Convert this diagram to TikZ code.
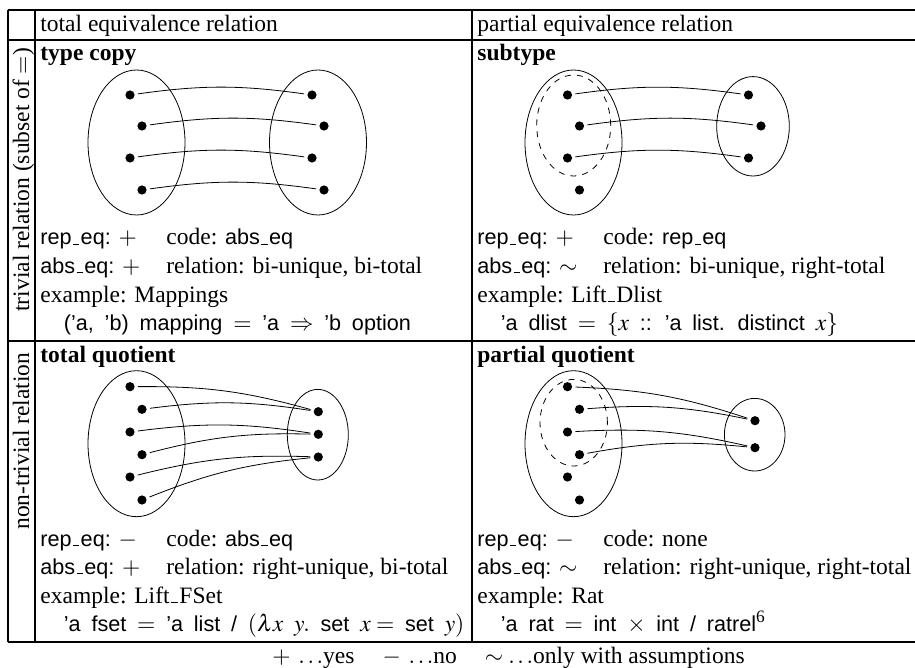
\documentclass[tikz,border=0pt]{standalone}
\usepackage{mathptmx}
\usepackage{fontspec}
\setmainfont{Liberation Serif}
\setsansfont{Liberation Sans}[Scale=0.92, WordSpace=1.8]
\newcommand{\us}{\kern.06em\vbox{\hrule width.3em}\kern.06em}

\begin{document}
\begin{tikzpicture}[x=0.5pt,y=0.5pt]
\tikzstyle{every node}+=[inner sep=0pt, font=\fontsize{11.75}{14}\selectfont]
\tikzstyle{txt}=[anchor=base west]
\tikzstyle{dot}=[circle, fill=black, minimum size=4.6pt, outer sep=1.7pt]
\tikzstyle{rule}=[line width=1.1pt]
\useasboundingbox (0,0) rectangle (915,-668);
% table rules
\draw [rule] (8,-10) -- (915,-10);
\draw [rule] (8,-40) -- (915,-40);
\draw [rule] (8,-341) -- (915,-341);
\draw [rule] (8,-642) -- (915,-642);
\draw [rule] (8,-10) -- (8,-642);
\draw [rule] (35,-10) -- (35,-642);
\draw [rule] (472,-10) -- (472,-642);
% header
\node (hdtot) [txt] at (40,-31.5) {total equivalence relation};
\node (hdpar) [txt] at (477,-31.5) {partial equivalence relation};
% side labels
\begin{scope}
\clip (8,-40) rectangle (35,-341);
\node (lbltriv) [txt, rotate=90] at (29,-312) {trivial relation (subset of $=$)};
\end{scope}
\begin{scope}
\clip (8,-341) rectangle (35,-642);
\node (lblnon) [txt, rotate=90] at (29,-530) {non-trivial relation};
\end{scope}
% type copy
\node (cpy) [txt] at (40,-61) {\textbf{type copy}};
\draw (136.5,-142.5) ellipse (48.5 and 72.5);
\draw (318,-142.5) ellipse (48.5 and 72.5);
\node (cpyL1) [dot] at (130,-95) {};
\node (cpyL2) [dot] at (142,-126) {};
\node (cpyL3) [dot] at (130,-158) {};
\node (cpyL4) [dot] at (142,-190) {};
\node (cpyR1) [dot] at (312,-95) {};
\node (cpyR2) [dot] at (324,-126) {};
\node (cpyR3) [dot] at (312,-158) {};
\node (cpyR4) [dot] at (324,-190) {};
\draw (cpyL1) to [bend left=8] (cpyR1);
\draw (cpyL2) to [bend left=8] (cpyR2);
\draw (cpyL3) to [bend left=8] (cpyR3);
\draw (cpyL4) to [bend left=8] (cpyR4);
\node (cpyrep) [txt] at (40,-245) {\textsf{rep\us eq:} $+$};
\node (cpycode) [txt] at (166,-245) {code: \textsf{abs\us eq}};
\node (cpyabs) [txt] at (40,-273) {\textsf{abs\us eq:} $+$};
\node (cpyrel) [txt] at (166,-273) {relation: bi-unique, bi-total};
\node (cpyex) [txt] at (40,-302) {example: Mappings};
\node (cpydef) [txt] at (40,-330) {\sffamily\hspace{11.75pt}('a, 'b) mapping $=$ 'a $\Rightarrow$ 'b option};
% subtype
\node (sub) [txt] at (477,-61) {\textbf{subtype}};
\draw (573.5,-142.5) ellipse (48.5 and 72.5);
\draw [dashed] (573.7,-125.5) ellipse (37 and 50.5);
\draw (753,-126.3) ellipse (36.3 and 49.7);
\node (subL1) [dot] at (567.5,-95) {};
\node (subL2) [dot] at (579.5,-126) {};
\node (subL3) [dot] at (567.5,-158) {};
\node (subL4) [dot] at (579.5,-190) {};
\node (subR1) [dot] at (748.5,-95) {};
\node (subR2) [dot] at (761,-126) {};
\node (subR3) [dot] at (748.5,-158) {};
\draw (subL1) to [bend left=8] (subR1);
\draw (subL2) to [bend left=8] (subR2);
\draw (subL3) to [bend left=8] (subR3);
\node (subrep) [txt] at (477,-245) {\textsf{rep\us eq:} $+$};
\node (subcode) [txt] at (603,-245) {code: \textsf{rep\us eq}};
\node (subabs) [txt] at (477,-273) {\textsf{abs\us eq:} $\sim$};
\node (subrel) [txt] at (603,-273) {relation: bi-unique, right-total};
\node (subex) [txt] at (477,-302) {example: Lift\us Dlist};
\node (subdef) [txt] at (477,-330) {\sffamily\hspace{11.75pt}'a dlist $=$ $\{x$ :: 'a list. distinct $x\}$};
% total quotient
\node (tq) [txt] at (40,-362) {\textbf{total quotient}};
\draw (136.5,-443.7) ellipse (48.5 and 73);
\draw (317.8,-434.7) ellipse (30.5 and 45.3);
\node (tqL1) [dot] at (130,-386.7) {};
\node (tqL2) [dot] at (142,-409.3) {};
\node (tqL3) [dot] at (130,-432) {};
\node (tqL4) [dot] at (142,-454.7) {};
\node (tqL5) [dot] at (130,-477) {};
\node (tqL6) [dot] at (142,-500) {};
\node (tqR1) [dot] at (318.3,-411.7) {};
\node (tqR2) [dot] at (318.3,-434.3) {};
\node (tqR3) [dot] at (318.3,-457) {};
\draw (tqL1) to [bend left=8] (tqR1);
\draw (tqL2) to [bend left=8] (tqR1);
\draw (tqL3) to [bend left=8] (tqR2);
\draw (tqL4) to [bend left=8] (tqR2);
\draw (tqL5) to [bend left=8] (tqR3);
\draw (tqL6) to [bend left=8] (tqR3);
\node (tqrep) [txt] at (40,-546) {\textsf{rep\us eq:} $-$};
\node (tqcode) [txt] at (166,-546) {code: \textsf{abs\us eq}};
\node (tqabs) [txt] at (40,-574) {\textsf{abs\us eq:} $+$};
\node (tqrel) [txt] at (166,-574) {relation: right-unique, bi-total};
\node (tqex) [txt] at (40,-603) {example: Lift\us FSet};
\node (tqdef) [txt] at (40,-631) {\sffamily\hspace{11.75pt}'a fset $=$ 'a list / $(\lambda x\ y.$ set $x =$ set $y)$};
% partial quotient
\node (pq) [txt] at (477,-362) {\textbf{partial quotient}};
\draw (573.5,-443.7) ellipse (48.5 and 73);
\draw [dashed] (573.7,-422.7) ellipse (33.7 and 43.3);
\draw (754.7,-434.7) ellipse (30.3 and 36.3);
\node (pqL1) [dot] at (567.5,-386.7) {};
\node (pqL2) [dot] at (579.5,-409.3) {};
\node (pqL3) [dot] at (567.5,-432) {};
\node (pqL4) [dot] at (579.5,-454.7) {};
\node (pqL5) [dot] at (567.5,-477) {};
\node (pqL6) [dot] at (579.5,-500) {};
\node (pqR1) [dot] at (755,-420.7) {};
\node (pqR2) [dot] at (755,-447.7) {};
\draw (pqL1) to [bend left=8] (pqR1);
\draw (pqL2) to [bend left=8] (pqR1);
\draw (pqL3) to [bend left=8] (pqR2);
\draw (pqL4) to [bend left=8] (pqR2);
\node (pqrep) [txt] at (477,-546) {\textsf{rep\us eq:} $-$};
\node (pqcode) [txt] at (603,-546) {code: none};
\node (pqabs) [txt] at (477,-574) {\textsf{abs\us eq:} $\sim$};
\node (pqrel) [txt] at (603,-574) {relation: right-unique, right-total};
\node (pqex) [txt] at (477,-603) {example: Rat};
\node (pqdef) [txt] at (477,-631) {\sffamily\hspace{11.75pt}'a rat $=$ int $\times$ int / ratrel\textsuperscript{\rmfamily 6}};
% legend
\node (legend) [txt] at (272,-663) {$+\;\ldots$yes\hspace{14pt}$-\;\ldots$no\hspace{14pt}$\sim\ldots$only with assumptions};
\end{tikzpicture}
\end{document}
